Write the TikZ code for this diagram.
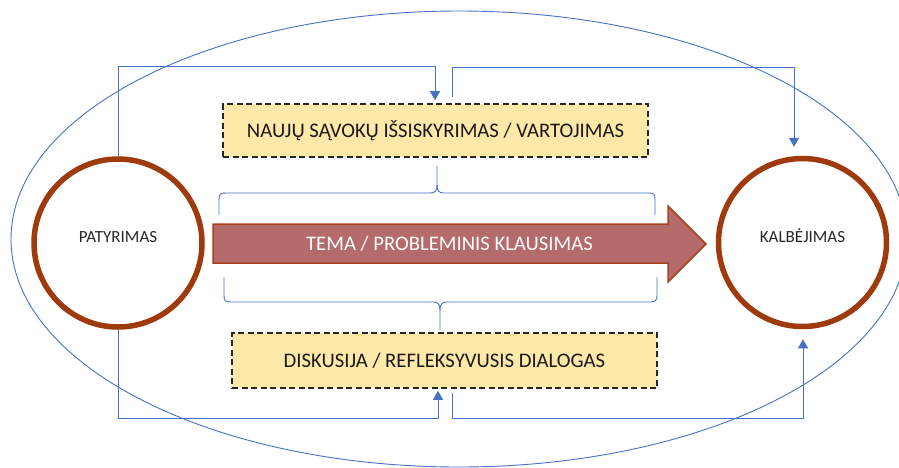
\documentclass[tikz,border=0pt]{standalone}
\usepackage{fontspec}
\setmainfont{Carlito}
\usetikzlibrary{arrows.meta,calc}
\definecolor{flowblue}{HTML}{4472C4}
\definecolor{ringbrown}{HTML}{9E3A0C}
\definecolor{boxyellow}{HTML}{FFE8A8}
\definecolor{arrowfill}{HTML}{B56B6B}
\definecolor{arrowedge}{HTML}{A8401C}
\begin{document}
\begin{tikzpicture}[x=1pt,y=-1pt,
  ring/.style={circle,draw=ringbrown,line width=5.5pt,minimum size=168pt,inner sep=0pt},
  ringtext/.style={font=\fontsize{17}{20}\selectfont,text=black!85,anchor=base,inner sep=0pt},
  stagebox/.style={draw=black!85,dash pattern=on 6pt off 3.5pt,line width=1.6pt,fill=boxyellow,
    minimum width=425pt,minimum height=53pt,inner sep=0pt,font=\fontsize{20.7}{24}\selectfont,text=black!90},
  flow/.style={draw=flowblue,line width=0.9pt},
  tiparrow/.style={-{Triangle[width=10pt,length=9pt]}},
  bracket/.style={draw=flowblue,line width=0.9pt},
  bigarrow/.style={fill=arrowfill,draw=arrowedge,line width=1.5pt,line join=miter},
  arrowtext/.style={text=white,font=\fontsize{20.7}{24}\selectfont,inner sep=0pt}]
\useasboundingbox (0,0) rectangle (899,467);

% enclosing ellipse
\draw[flow] (459,239) ellipse [x radius=448, y radius=228];

% circles
\node[ring] (L) at (118,243) {};
\node[ringtext] (Lt) at (118,242) {PATYRIMAS};
\node[ring] (R) at (802.5,242.5) {};
\node[ringtext] (Rt) at (802.5,242) {KALBĖJIMAS};

% boxes
\node[stagebox] (T) at (435.5,130.5) {NAUJŲ SĄVOKŲ IŠSISKYRIMAS / VARTOJIMAS};
\node[stagebox,minimum height=55pt] (B) at (444.5,360.5) {DISKUSIJA / REFLEKSYVUSIS DIALOGAS};

% big arrow
\path[bigarrow] (213,224) -- (668,224) -- (668,206) -- (706,244) -- (668,282) -- (668,263) -- (213,263) -- cycle;
\node[arrowtext] (A) at (449.5,244) {TEMA / PROBLEMINIS KLAUSIMAS};

% braces
\draw[bracket] (219,215) -- (219,200) .. controls (219,194) and (220,193) .. (226,193) -- (430,193)
  .. controls (435,193) and (437,191) .. (437,185) -- (437,166);
\draw[bracket] (437,185) .. controls (437,191) and (439,193) .. (444,193) -- (649,193)
  .. controls (654,193) and (655,194) .. (655,200) -- (655,215);
\draw[bracket] (224,277) -- (224,295) .. controls (224,301) and (225,302) .. (231,302) -- (433,302)
  .. controls (438,302) and (440,304) .. (440,310) -- (440,330);
\draw[bracket] (440,310) .. controls (440,304) and (442,302) .. (447,302) -- (650,302)
  .. controls (655,302) and (657,301) .. (657,295) -- (657,277);

% connectors
\coordinate (ta) at (435,66);
\draw[flow,tiparrow,shorten >=3pt] (L.north) |- (ta) -- (ta |- T.north);
\coordinate (tb) at (452,67);
\coordinate (tc) at (794,67);
\draw[flow,tiparrow,shorten <=6pt,shorten >=9pt] (tb |- T.north) -- (tb) -- (tc) -- (tc |- R.north);

\coordinate (ba) at (438,418);
\draw[flow,tiparrow,shorten >=2pt] (L.south) |- (ba) -- (ba |- B.south);
\coordinate (bb) at (452,418);
\coordinate (bc) at (803,418);
\draw[flow,tiparrow,shorten <=4pt,shorten >=10pt] (bb |- B.south) -- (bb) -- (bc) -- (bc |- R.south);
\end{tikzpicture}
\end{document}
